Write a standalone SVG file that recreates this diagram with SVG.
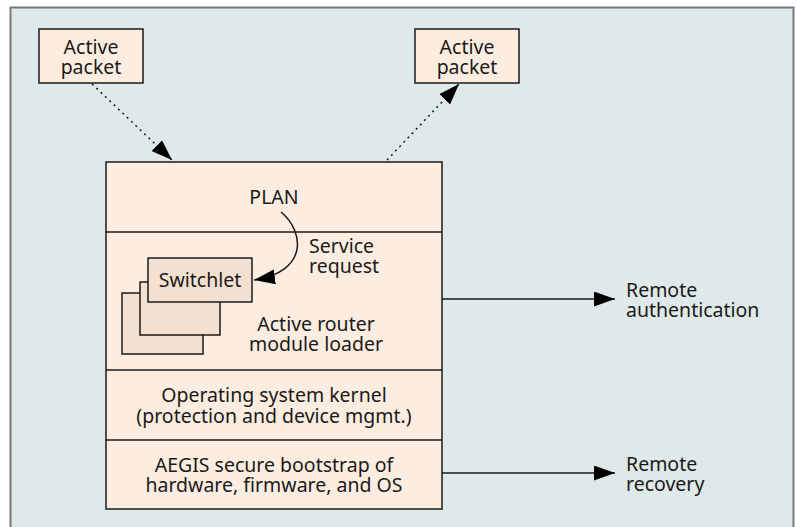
<svg xmlns="http://www.w3.org/2000/svg" width="797" height="527" viewBox="0 0 797 527">
<defs>
<style>
text{font-family:"Noto Sans","Liberation Sans",sans-serif;font-size:19.5px;fill:#1a1a1a}
.c{text-anchor:middle}
.box{fill:#fdede0;stroke:#1a1a1a;stroke-width:1.5}
.sw{fill:#f4e0d0;stroke:#1a1a1a;stroke-width:1.5}
.ln{fill:none;stroke:#1a1a1a;stroke-width:1.5}
.dot{fill:none;stroke:#1a1a1a;stroke-width:1.5;stroke-dasharray:2 4}
</style>
<marker id="ah" markerUnits="userSpaceOnUse" markerWidth="22" markerHeight="16" refX="21" refY="7.5" orient="auto">
<path d="M0,0 L21,7.5 L0,15 z" fill="#000"/>
</marker>
</defs>
<rect x="10.5" y="7.5" width="783" height="530" fill="#dfe9e9" stroke="#777" stroke-width="2"/>
<g id="packet1">
<rect class="box" x="39" y="29" width="104" height="54"/>
<text class="c" x="91" y="54">Active<tspan x="91" dy="20">packet</tspan></text>
</g>
<g id="packet2">
<rect class="box" x="415" y="29" width="104" height="54"/>
<text class="c" x="467" y="54">Active<tspan x="467" dy="20">packet</tspan></text>
</g>
<g id="stack">
<rect class="box" x="106" y="162" width="336" height="347"/>
<line class="ln" x1="106" y1="232" x2="442" y2="232"/>
<line class="ln" x1="106" y1="370" x2="442" y2="370"/>
<line class="ln" x1="106" y1="440" x2="442" y2="440"/>
</g>
<g id="plan">
<text class="c" x="274" y="204">PLAN</text>
</g>
<g id="switchlets">
<rect class="sw" x="122" y="293" width="81" height="61"/>
<rect class="sw" x="140" y="282" width="80" height="53"/>
<rect class="sw" x="148" y="258" width="104" height="44"/>
<text class="c" x="200" y="287">Switchlet</text>
</g>
<g id="loader">
<text class="c" x="316" y="331">Active router<tspan x="316" dy="20">module loader</tspan></text>
</g>
<g id="service">
<text x="309" y="253">Service<tspan x="309" dy="20">request</tspan></text>
</g>
<g id="kernel">
<text class="c" x="274" y="402">Operating system kernel<tspan x="274" dy="21">(protection and device mgmt.)</tspan></text>
</g>
<g id="aegis">
<text class="c" x="274" y="472">AEGIS secure bootstrap of<tspan x="274" dy="20">hardware, firmware, and OS</tspan></text>
</g>
<g id="auth">
<text x="626" y="297">Remote<tspan x="626" dy="20">authentication</tspan></text>
</g>
<g id="recovery">
<text x="626" y="471">Remote<tspan x="626" dy="20">recovery</tspan></text>
</g>
<g id="connectors">
<line class="dot" x1="92" y1="84" x2="172" y2="160" marker-end="url(#ah)"/>
<line class="dot" x1="387" y1="160" x2="459" y2="84" marker-end="url(#ah)"/>
<path class="ln" d="M281,212 C305,232 308,272 254,280" marker-end="url(#ah)"/>
<line class="ln" x1="442" y1="299" x2="615" y2="299" marker-end="url(#ah)"/>
<line class="ln" x1="442" y1="473" x2="615" y2="473" marker-end="url(#ah)"/>
</g>
</svg>
